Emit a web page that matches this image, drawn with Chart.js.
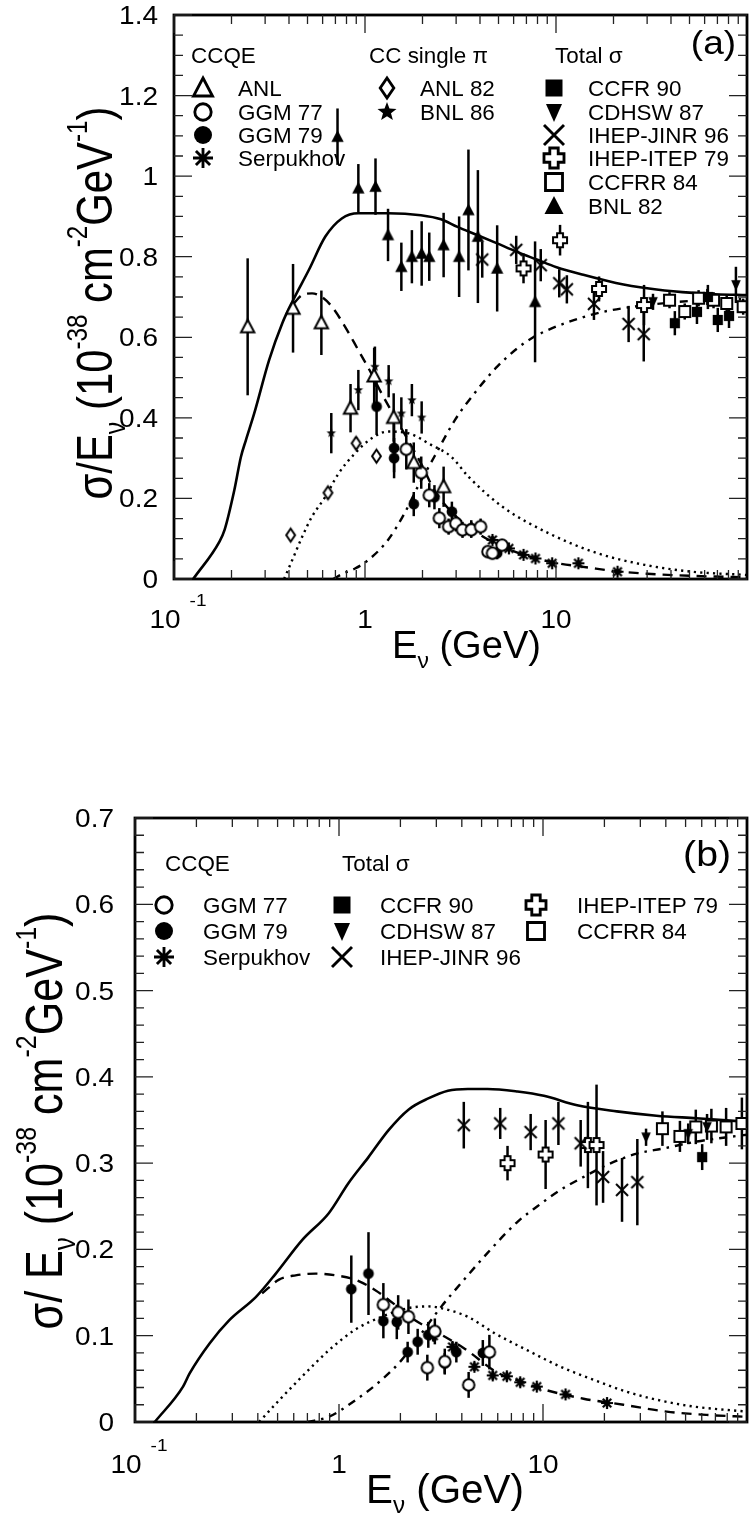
<!DOCTYPE html>
<html><head><meta charset="utf-8">
<script src="https://cdn.jsdelivr.net/npm/chart.js@4"></script>
<style>
html,body{margin:0;padding:0;background:#fff;overflow:hidden;width:754px;height:1521px}
canvas{position:absolute;left:0}
#ca{top:0}
#cb{top:760px}
</style></head><body>
<canvas id="ca" width="754" height="700"></canvas>
<canvas id="cb" width="754" height="761"></canvas>
<script>
// ===================== DATA =====================
// ---- shared tick labels ----
const X_TICK_VALUES = [0.1, 1, 10];
const X_TICK_LABELS = [["10", "-1"], ["1", ""], ["10", ""]];
const A_Y_TICKS = [0, 0.2, 0.4, 0.6, 0.8, 1, 1.2, 1.4];
const B_Y_TICKS = [0, 0.1, 0.2, 0.3, 0.4, 0.5, 0.6, 0.7];

// ---- Panel (a): neutrino, model curves ----
const A_TOT_E  = [0.126,0.173,0.184,0.207,0.224,0.238,0.263,0.315,0.369,0.42,0.508,0.62,0.756,0.923,1.32,1.96,2.5,3.05,3.86,4.92,6.25,7.93,10.07,13.9,20.6,30.7,45.8,68.1,100];
const A_TOT_V  = [0,0.093,0.122,0.221,0.303,0.345,0.411,0.544,0.635,0.692,0.767,0.85,0.895,0.908,0.908,0.903,0.893,0.874,0.854,0.833,0.812,0.793,0.774,0.755,0.735,0.721,0.712,0.707,0.705];
const A_QE_E   = [0.424,0.469,0.528,0.595,0.671,0.787,0.923,1.08,1.22,1.43,1.68,2.0,2.31,3,4,5,7,10,15,20,30,50,100];
const A_QE_V   = [0.684,0.705,0.709,0.70,0.676,0.626,0.568,0.51,0.461,0.403,0.345,0.28,0.22,0.155,0.11,0.085,0.058,0.04,0.028,0.02,0.013,0.008,0.004];
const A_PI_E   = [0.377,0.416,0.469,0.528,0.62,0.727,0.887,1.08,1.32,1.68,2.22,2.82,3.48,5.22,9.2,16.5,29.2,51.8,100];
const A_PI_V   = [0,0.047,0.105,0.155,0.204,0.262,0.312,0.349,0.366,0.362,0.333,0.304,0.254,0.18,0.113,0.064,0.035,0.018,0.01];
const A_DIS_E  = [0.68,0.78,0.887,1.04,1.32,1.61,1.89,2.31,2.96,3.86,4.92,6.25,7.6,10.07,13.9,17.6,22.3,30,50,100];
const A_DIS_V  = [0,0.015,0.026,0.047,0.097,0.163,0.229,0.304,0.395,0.469,0.527,0.572,0.600,0.627,0.650,0.663,0.672,0.68,0.69,0.695];

// ---- Panel (a): data points (E, value, error) ----
const A_ANL_E = [0.243,0.42,0.591,0.84,1.117,1.413,1.80,2.58];
const A_ANL_V = [0.626,0.672,0.636,0.424,0.504,0.401,0.289,0.229];
const A_ANL_R = [0.17,0.11,0.08,0.06,0.07,0.06,0.05,0.05];
const A_GGM77_E = [1.645,1.97,2.17,2.45,2.74,2.99,3.24,3.6,4.03,4.40,4.65,5.22];
const A_GGM77_V = [0.322,0.264,0.208,0.151,0.13,0.138,0.122,0.122,0.13,0.068,0.064,0.084];
const A_GGM77_R = [0.05,0.04,0.03,0.025,0.02,0.02,0.02,0.02,0.02,0.015,0.015,0.015];
const A_GGM79_E = [1.15,1.42,1.42,1.80,2.31,2.85,3.6,4.92];
const A_GGM79_V = [0.428,0.325,0.30,0.186,0.203,0.167,0.126,0.064];
const A_GGM79_R = [0.07,0.06,0.05,0.03,0.03,0.025,0.02,0.015];
const A_SERP_E = [4.65,5.67,6.76,7.81,9.55,13.1,21];
const A_SERP_V = [0.097,0.076,0.06,0.051,0.039,0.039,0.018];
const A_SERP_R = [0.01,0.008,0.008,0.007,0.007,0.007,0.006];
const A_ANL82_E = [0.408,0.64,0.898,1.148];
const A_ANL82_V = [0.109,0.214,0.337,0.305];
const A_ANL82_R = [0.01,0.012,0.015,0.015];
const A_BNL86_E = [0.666,0.923,1.127,1.33,1.55,1.76,1.98];
const A_BNL86_V = [0.362,0.469,0.527,0.491,0.411,0.444,0.401];
const A_BNL86_R = [0.05,0.05,0.05,0.04,0.04,0.04,0.04];
const A_BNL82_E = [0.718,0.923,1.135,1.32,1.55,1.76,1.98,2.17,2.58,3.11,3.48,3.90,4.92,7.77];
const A_BNL82_V = [1.098,0.970,0.974,0.854,0.775,0.80,0.808,0.80,0.829,0.80,0.916,0.85,0.771,0.688];
const A_BNL82_R = [0.07,0.06,0.07,0.065,0.06,0.066,0.08,0.06,0.08,0.1,0.15,0.165,0.107,0.15];
const A_JINR_E = [4.11,6.19,8.32,10.4,11.4,15.8,24.0,28.8];
const A_JINR_V = [0.793,0.817,0.779,0.734,0.719,0.683,0.633,0.608];
const A_JINR_R = [0.045,0.035,0.04,0.035,0.035,0.04,0.045,0.068];
const A_ITEP_E = [6.76,10.5,16.8,28.9];
const A_ITEP_V = [0.771,0.841,0.72,0.68];
const A_ITEP_R = [0.037,0.038,0.031,0.05];
const A_CDHSW_E = [32.2,62,87.5];
const A_CDHSW_V = [0.688,0.70,0.73];
const A_CDHSW_R = [0.02,0.02,0.045];
const A_CCFRR_E = [39.3,47.2,55.8,66.8,78.3,95.5];
const A_CCFRR_V = [0.692,0.664,0.697,0.692,0.684,0.676];
const A_CCFRR_R = [0.02,0.02,0.02,0.02,0.02,0.02];
const A_CCFR_E = [41.9,54.7,62.4,70.3,80.5];
const A_CCFR_V = [0.635,0.663,0.70,0.643,0.653];
const A_CCFR_R = [0.03,0.03,0.03,0.03,0.03];

// ---- Panel (b): antineutrino, model curves ----
const B_TOT_E  = [0.125,0.172,0.185,0.232,0.29,0.392,0.49,0.661,0.891,1.114,1.395,1.746,2.19,2.74,3.42,4.28,5.35,7.5,10.1,14.7,23,36,56.5,100];
const B_TOT_V  = [0,0.041,0.056,0.091,0.118,0.145,0.172,0.211,0.242,0.277,0.307,0.338,0.362,0.375,0.384,0.386,0.386,0.383,0.378,0.367,0.36,0.355,0.352,0.348];
const B_QE_E   = [0.42,0.508,0.613,0.767,0.96,1.2,1.5,1.88,2.36,3.18,4.13,6,8,10,15.8,24.8,40.4,65.6,100];
const B_QE_V   = [0.149,0.165,0.17,0.172,0.17,0.165,0.153,0.136,0.118,0.101,0.085,0.057,0.046,0.038,0.027,0.02,0.012,0.008,0.006];
const B_PI_E   = [0.406,0.508,0.661,0.891,1.2,1.62,2.19,2.74,3.42,4.28,5.78,8.4,12.2,17.7,25.8,37.4,54.4,100];
const B_PI_V   = [0,0.025,0.053,0.083,0.107,0.122,0.132,0.134,0.13,0.122,0.103,0.083,0.064,0.049,0.035,0.025,0.018,0.012];
const B_DIS_E  = [0.7,0.89,1.2,1.62,2.03,2.54,3.18,3.97,5.35,7.5,9.39,12.2,15.8,20.6,28.8,38.9,56.5,100];
const B_DIS_V  = [0,0.006,0.025,0.049,0.072,0.103,0.134,0.161,0.196,0.232,0.25,0.269,0.284,0.298,0.311,0.317,0.325,0.333];

// ---- Panel (b): data points ----
const B_GGM77_E = [1.65,1.95,2.19,2.71,2.95,3.3,4.32,5.46];
const B_GGM77_V = [0.136,0.127,0.122,0.063,0.105,0.07,0.043,0.081];
const B_GGM77_R = [0.025,0.02,0.02,0.015,0.015,0.015,0.015,0.02];
const B_GGM79_E = [1.149,1.395,1.65,1.92,2.17,2.43,2.74,3.3,3.76,5.07];
const B_GGM79_V = [0.154,0.172,0.117,0.116,0.081,0.093,0.101,0.068,0.081,0.08];
const B_GGM79_R = [0.039,0.048,0.02,0.02,0.012,0.015,0.015,0.012,0.012,0.015];
const B_SERP_E = [2.9,3.6,4.61,5.67,6.65,7.73,9.32,12.9,20.6];
const B_SERP_V = [0.1,0.087,0.064,0.054,0.053,0.046,0.041,0.032,0.022];
const B_SERP_R = [0.006,0.006,0.005,0.005,0.005,0.005,0.004,0.004,0.004];
const B_CCFR_E = [60.3];
const B_CCFR_V = [0.307];
const B_CCFR_R = [0.015];
const B_CDHSW_E = [32,51.5,63.7];
const B_CDHSW_V = [0.33,0.334,0.342];
const B_CDHSW_R = [0.01,0.012,0.015];
const B_JINR_E = [4.09,6.17,8.7,11.9,15.3,19.7,24.4,29];
const B_JINR_V = [0.344,0.346,0.336,0.346,0.323,0.284,0.269,0.278];
const B_JINR_R = [0.027,0.018,0.021,0.025,0.027,0.03,0.037,0.05];
const B_ITEP_E = [6.7,10.3,16.6,18.3];
const B_ITEP_V = [0.30,0.31,0.321,0.321];
const B_ITEP_R = [0.02,0.04,0.05,0.07];
const B_CCFRR_E = [38.5,46.9,56.1,66.9,79,94.4];
const B_CCFRR_V = [0.34,0.331,0.342,0.343,0.342,0.346];
const B_CCFRR_R = [0.02,0.018,0.02,0.02,0.022,0.03];

// ===================== DRAWING HELPERS =====================
const FAM = '"Liberation Sans", Arial, Helvetica, sans-serif';

function drawMarker(ctx, type, x, y, s) {
  const h = s / 2;
  ctx.save();
  ctx.lineWidth = Math.max(2.0, s / 7);
  ctx.strokeStyle = '#000'; ctx.fillStyle = '#000';
  ctx.lineJoin = 'miter'; ctx.lineCap = 'butt';
  ctx.beginPath();
  switch (type) {
    case 'triOpen':
    case 'triFill':
      ctx.moveTo(x, y - h); ctx.lineTo(x + h * 0.95, y + h * 0.8); ctx.lineTo(x - h * 0.95, y + h * 0.8); ctx.closePath();
      if (type === 'triOpen') { ctx.fillStyle = '#fff'; ctx.fill(); ctx.stroke(); } else ctx.fill();
      break;
    case 'triDown':
      ctx.moveTo(x, y + h); ctx.lineTo(x + h * 0.8, y - h * 0.8); ctx.lineTo(x - h * 0.8, y - h * 0.8); ctx.closePath(); ctx.fill();
      break;
    case 'circOpen':
      ctx.arc(x, y, h * 0.82, 0, Math.PI * 2); ctx.fillStyle = '#fff'; ctx.fill(); ctx.stroke();
      break;
    case 'circFill':
      ctx.arc(x, y, h * 0.9, 0, Math.PI * 2); ctx.fill();
      break;
    case 'aster':
      for (let k = 0; k < 4; k++) {
        const a = k * Math.PI / 4;
        ctx.moveTo(x - Math.cos(a) * h, y - Math.sin(a) * h);
        ctx.lineTo(x + Math.cos(a) * h, y + Math.sin(a) * h);
      }
      ctx.lineWidth = Math.max(2.2, s / 7);
      ctx.stroke();
      break;
    case 'diamond':
      ctx.moveTo(x, y - h); ctx.lineTo(x + h * 0.68, y); ctx.lineTo(x, y + h); ctx.lineTo(x - h * 0.68, y); ctx.closePath();
      ctx.fillStyle = '#fff'; ctx.fill(); ctx.stroke();
      break;
    case 'star5': {
      for (let k = 0; k < 10; k++) {
        const r = (k % 2 === 0) ? h : h * 0.42;
        const a = -Math.PI / 2 + k * Math.PI / 5;
        const px = x + Math.cos(a) * r, py = y + Math.sin(a) * r;
        if (k === 0) ctx.moveTo(px, py); else ctx.lineTo(px, py);
      }
      ctx.closePath(); ctx.fill();
      break;
    }
    case 'sqFill':
      ctx.rect(x - h * 0.85, y - h * 0.85, h * 1.7, h * 1.7); ctx.fill();
      break;
    case 'sqOpen':
      ctx.rect(x - h * 0.85, y - h * 0.85, h * 1.7, h * 1.7); ctx.fillStyle = '#fff'; ctx.fill(); ctx.stroke();
      break;
    case 'xcross':
      ctx.moveTo(x - h, y - h); ctx.lineTo(x + h, y + h);
      ctx.moveTo(x + h, y - h); ctx.lineTo(x - h, y + h);
      ctx.stroke();
      break;
    case 'plusOpen': {
      const w = h * 0.42;
      ctx.moveTo(x - w, y - h); ctx.lineTo(x + w, y - h); ctx.lineTo(x + w, y - w); ctx.lineTo(x + h, y - w);
      ctx.lineTo(x + h, y + w); ctx.lineTo(x + w, y + w); ctx.lineTo(x + w, y + h); ctx.lineTo(x - w, y + h);
      ctx.lineTo(x - w, y + w); ctx.lineTo(x - h, y + w); ctx.lineTo(x - h, y - w); ctx.lineTo(x - w, y - w); ctx.closePath();
      ctx.fillStyle = '#fff'; ctx.fill(); ctx.stroke();
      break;
    }
  }
  ctx.restore();
}

function markerCanvas(type, s) {
  const c = document.createElement('canvas');
  const n = Math.ceil(s + 6);
  c.width = n; c.height = n;
  drawMarker(c.getContext('2d'), type, n / 2, n / 2, s);
  return c;
}

// text with super/subscripts: seg = [text, kind, scale?, raise?]; kind: 'n' | 'sup' | 'sub' | 'gap'
function segInfo(seg, size) {
  const [t, k, sc, rs] = seg;
  if (k === 'n') return { fs: size, dy: 0 };
  if (k === 'sup') return { fs: size * (sc || 0.62), dy: -size * (rs || 0.42) };
  if (k === 'sub') return { fs: size * (sc || 0.62), dy: size * (rs || 0.22) };
  return { fs: size, dy: 0 };
}
function segsWidth(ctx, segs, size, sx) {
  let w = 0;
  for (const seg of segs) {
    if (seg[1] === 'gap') { w += seg[2]; continue; }
    const { fs } = segInfo(seg, size);
    ctx.font = fs + 'px ' + FAM;
    w += ctx.measureText(seg[0]).width * sx;
  }
  return w;
}
function drawSegs(ctx, segs, x, y, size, align, sx, sy) {
  sy = sy || 1;
  const W = segsWidth(ctx, segs, size, sx);
  let cx = align === 'center' ? x - W / 2 : (align === 'right' ? x - W : x);
  ctx.save();
  ctx.fillStyle = '#000';
  ctx.textBaseline = 'alphabetic';
  ctx.textAlign = 'left';
  for (const seg of segs) {
    if (seg[1] === 'gap') { cx += seg[2]; continue; }
    const { fs, dy } = segInfo(seg, size);
    ctx.font = fs + 'px ' + FAM;
    ctx.save();
    ctx.translate(cx, y + dy * sy);
    ctx.scale(sx, sy);
    ctx.fillText(seg[0], 0, 0);
    ctx.restore();
    cx += ctx.measureText(seg[0]).width * sx;
  }
  ctx.restore();
  return W;
}
function fitSize(ctx, segs, target, base) {
  return base * target / segsWidth(ctx, segs, base, 1);
}

// ===================== PLUGINS =====================
const errorBars = {
  id: 'errorBars',
  beforeDatasetsDraw(chart) {
    const ctx = chart.ctx, a = chart.chartArea;
    const xs = chart.scales.x, ys = chart.scales.y;
    ctx.save();
    ctx.beginPath(); ctx.rect(a.left, a.top, a.right - a.left, a.bottom - a.top); ctx.clip();
    ctx.strokeStyle = '#000'; ctx.lineWidth = 2.5;
    chart.data.datasets.forEach(ds => {
      if (!ds.errs) return;
      ds.data.forEach((p, i) => {
        const e = ds.errs[i];
        const px = xs.getPixelForValue(p.x);
        ctx.beginPath();
        ctx.moveTo(px, ys.getPixelForValue(p.y - e));
        ctx.lineTo(px, ys.getPixelForValue(p.y + e));
        ctx.stroke();
      });
    });
    ctx.restore();
  }
};

const decor = {
  id: 'decor',
  afterDraw(chart, args, o) {
    const ctx = chart.ctx, a = chart.chartArea;
    const xs = chart.scales.x, ys = chart.scales.y;
    const off = o.offY;
    ctx.save();
    // frame
    ctx.strokeStyle = '#000'; ctx.lineWidth = 2.8;
    ctx.strokeRect(a.left, a.top, a.right - a.left, a.bottom - a.top);
    // ticks
    ctx.lineWidth = 1.3;
    ctx.strokeStyle = '#222';
    ctx.beginPath();
    for (const d of [0.1, 1, 10]) {
      for (let k = 1; k <= 9; k++) {
        const v = k * d;
        const px = xs.getPixelForValue(v);
        const L = k === 1 ? 18 : 9;
        ctx.moveTo(px, a.bottom); ctx.lineTo(px, a.bottom - L);
        ctx.moveTo(px, a.top); ctx.lineTo(px, a.top + L);
      }
    }
    const nMinor = Math.round(o.ymax / o.minor);
    for (let i = 0; i <= nMinor; i++) {
      const v = i * o.minor;
      const py = ys.getPixelForValue(v);
      const isMaj = Math.abs(v / o.major - Math.round(v / o.major)) < 1e-6;
      const L = isMaj ? 18 : 9;
      ctx.moveTo(a.left, py); ctx.lineTo(a.left + L, py);
      ctx.moveTo(a.right, py); ctx.lineTo(a.right - L, py);
    }
    ctx.stroke();

    // y tick labels
    o.yTicks.forEach(v => {
      const py = ys.getPixelForValue(v);
      drawSegs(ctx, [[String(v), 'n']], o.yLabRight, py + 9, o.tickSize, 'right', o.tickSx);
    });
    // x tick labels
    X_TICK_VALUES.forEach((v, i) => {
      const [main, sup] = X_TICK_LABELS[i];
      const segs = sup ? [[main, 'n'], ['', 'gap', 9], [sup, 'sup', 0.68, 0.88]] : [[main, 'n']];
      const px = xs.getPixelForValue(v) + (sup ? 4 : 0);
      drawSegs(ctx, segs, px, o.xLabBase - off, o.tickSize, 'center', o.tickSx);
    });
    // x title
    const xt = [['E', 'n'], ['\u03bd', 'sub', 0.6, 0.25], [' (GeV)', 'n']];
    drawSegs(ctx, xt, o.xtLeft, o.xtBase - off, fitSize(ctx, xt, o.xtWidth, 30), 'left', 1);
    // y title (rotated)
    const yt = o.yTitle;
    ctx.save();
    ctx.translate(o.ytBase, o.ytCenter - off);
    ctx.rotate(-Math.PI / 2);
    drawSegs(ctx, yt, 0, 0, fitSize(ctx, yt, o.ytLen, 40), 'center', 1, o.ytSy);
    ctx.restore();
    // panel label
    drawSegs(ctx, [[o.panel, 'n']], o.panelRight, o.panelBase - off, o.panelSize, 'right', 1.12);
    // legend
    o.heads.forEach(hd => drawSegs(ctx, [[hd[0], 'n']], hd[1], o.headBase - off, o.legSize, 'left', 1.02));
    o.entries.forEach(en => {
      const [label, type, sx, tx, cy] = en;
      drawMarker(ctx, type, sx, cy - off, o.legMarker);
      drawSegs(ctx, [[label, 'n']], tx, cy - off + 8, o.legSize, 'left', 1.02);
    });
    ctx.restore();
  }
};

// ===================== CHART BUILDERS =====================
const MS = {triOpen:14, triFill:13, triDown:12, circOpen:14, circFill:12, aster:12, diamond:13, star5:10, sqFill:12, sqOpen:13, xcross:12, plusOpen:14};
function pts(E, V) { return E.map((e, i) => ({x: e, y: V[i]})); }
function pointSet(label, type, E, V, R) {
  return { label, data: pts(E, V), errs: R, showLine: false, pointStyle: markerCanvas(type, MS[type]), pointRadius: 6, pointHoverRadius: 6 };
}
function curveSet(label, E, V, dash, w) {
  return { label, data: pts(E, V), showLine: true, pointRadius: 0, borderColor: '#000', borderWidth: w, borderDash: dash, cubicInterpolationMode: 'monotone' };
}
const Y_TITLE_A = [['\u03c3/E', 'n'], ['\u03bd', 'sub', 0.6, 0.25], [' (10', 'n'], ['-38', 'sup', 0.58, 0.5], [' cm', 'n'], ['-2', 'sup', 0.58, 0.5], ['GeV', 'n'], ['-1', 'sup', 0.58, 0.5], [')', 'n']];
const Y_TITLE_B = [['\u03c3/ E', 'n'], ['\u03bd', 'sub', 0.6, 0.25], [' (10', 'n'], ['-38', 'sup', 0.58, 0.5], [' cm', 'n'], ['-2', 'sup', 0.58, 0.5], ['GeV', 'n'], ['-1', 'sup', 0.58, 0.5], [')', 'n']];

function build(id, datasets, o) {
  return new Chart(document.getElementById(id), {
    type: 'scatter',
    data: { datasets },
    options: {
      responsive: false, animation: false, devicePixelRatio: 1, events: [],
      layout: { padding: { top: o.padTop, right: o.padRight, left: 0, bottom: 0 } },
      plugins: { legend: { display: false }, tooltip: { enabled: false }, decor: o },
      scales: {
        x: { type: 'logarithmic', min: 0.1, max: 100, grid: { display: false }, border: { display: false }, ticks: { display: false }, afterFit(s) { s.height = o.xh; } },
        y: { type: 'linear', min: 0, max: o.ymax, grid: { display: false }, border: { display: false }, ticks: { display: false }, afterFit(s) { s.width = o.yw; } }
      }
    },
    plugins: [errorBars, decor]
  });
}

// ---- Panel (a) ----
build('ca', [
  pointSet('ANL', 'triOpen', A_ANL_E, A_ANL_V, A_ANL_R),
  pointSet('GGM 77', 'circOpen', A_GGM77_E, A_GGM77_V, A_GGM77_R),
  pointSet('GGM 79', 'circFill', A_GGM79_E, A_GGM79_V, A_GGM79_R),
  pointSet('Serpukhov', 'aster', A_SERP_E, A_SERP_V, A_SERP_R),
  pointSet('ANL 82', 'diamond', A_ANL82_E, A_ANL82_V, A_ANL82_R),
  pointSet('BNL 86', 'star5', A_BNL86_E, A_BNL86_V, A_BNL86_R),
  pointSet('CCFR 90', 'sqFill', A_CCFR_E, A_CCFR_V, A_CCFR_R),
  pointSet('CDHSW 87', 'triDown', A_CDHSW_E, A_CDHSW_V, A_CDHSW_R),
  pointSet('IHEP-JINR 96', 'xcross', A_JINR_E, A_JINR_V, A_JINR_R),
  pointSet('IHEP-ITEP 79', 'plusOpen', A_ITEP_E, A_ITEP_V, A_ITEP_R),
  pointSet('CCFRR 84', 'sqOpen', A_CCFRR_E, A_CCFRR_V, A_CCFRR_R),
  pointSet('BNL 82', 'triFill', A_BNL82_E, A_BNL82_V, A_BNL82_R),
  curveSet('Total', A_TOT_E, A_TOT_V, [], 2.6),
  curveSet('CCQE model', A_QE_E, A_QE_V, [10, 7], 2.4),
  curveSet('CC single pi model', A_PI_E, A_PI_V, [2.2, 4.2], 2.4),
  curveSet('DIS model', A_DIS_E, A_DIS_V, [8, 6, 2.5, 6], 2.4)
], {
  offY: 0, padTop: 15, padRight: 2, xh: 121, yw: 174, ymax: 1.4, minor: 0.05, major: 0.2,
  yTicks: A_Y_TICKS, yLabRight: 158, tickSize: 25, tickSx: 1.12, xLabBase: 628,
  xtLeft: 392, xtBase: 658, xtWidth: 149,
  yTitle: Y_TITLE_A, ytBase: 112, ytCenter: 303, ytLen: 393, ytSy: 1.2,
  panel: '(a)', panelRight: 736, panelBase: 54, panelSize: 33,
  legSize: 22, legMarker: 20, headBase: 63,
  heads: [['CCQE', 191], ['CC single \u03c0', 369], ['Total \u03c3', 555]],
  entries: [
    ['ANL', 'triOpen', 203, 238, 88], ['GGM 77', 'circOpen', 203, 238, 112], ['GGM 79', 'circFill', 203, 238, 135], ['Serpukhov', 'aster', 203, 238, 158],
    ['ANL 82', 'diamond', 387, 420, 88], ['BNL 86', 'star5', 387, 420, 112],
    ['CCFR 90', 'sqFill', 554, 588, 88], ['CDHSW 87', 'triDown', 554, 588, 112], ['IHEP-JINR 96', 'xcross', 554, 588, 135],
    ['IHEP-ITEP 79', 'plusOpen', 554, 588, 158], ['CCFRR 84', 'sqOpen', 554, 588, 182], ['BNL 82', 'triFill', 554, 588, 206]
  ]
});

// ---- Panel (b) ----
build('cb', [
  pointSet('GGM 77', 'circOpen', B_GGM77_E, B_GGM77_V, B_GGM77_R),
  pointSet('GGM 79', 'circFill', B_GGM79_E, B_GGM79_V, B_GGM79_R),
  pointSet('Serpukhov', 'aster', B_SERP_E, B_SERP_V, B_SERP_R),
  pointSet('CCFR 90', 'sqFill', B_CCFR_E, B_CCFR_V, B_CCFR_R),
  pointSet('CDHSW 87', 'triDown', B_CDHSW_E, B_CDHSW_V, B_CDHSW_R),
  pointSet('IHEP-JINR 96', 'xcross', B_JINR_E, B_JINR_V, B_JINR_R),
  pointSet('IHEP-ITEP 79', 'plusOpen', B_ITEP_E, B_ITEP_V, B_ITEP_R),
  pointSet('CCFRR 84', 'sqOpen', B_CCFRR_E, B_CCFRR_V, B_CCFRR_R),
  curveSet('Total', B_TOT_E, B_TOT_V, [], 2.6),
  curveSet('CCQE model', B_QE_E, B_QE_V, [10, 7], 2.4),
  curveSet('CC single pi model', B_PI_E, B_PI_V, [2.2, 4.2], 2.4),
  curveSet('DIS model', B_DIS_E, B_DIS_V, [8, 6, 2.5, 6], 2.4)
], {
  offY: 760, padTop: 58, padRight: 3, xh: 99, yw: 135, ymax: 0.7, minor: 0.02, major: 0.1,
  yTicks: B_Y_TICKS, yLabRight: 114, tickSize: 25, tickSx: 1.12, xLabBase: 1473,
  xtLeft: 366, xtBase: 1503, xtWidth: 158,
  yTitle: Y_TITLE_B, ytBase: 62, ytCenter: 1121, ytLen: 417, ytSy: 1.2,
  panel: '(b)', panelRight: 731, panelBase: 866, panelSize: 35,
  legSize: 22, legMarker: 20, headBase: 871,
  heads: [['CCQE', 165], ['Total \u03c3', 342]],
  entries: [
    ['GGM 77', 'circOpen', 164, 203, 905], ['GGM 79', 'circFill', 164, 203, 931], ['Serpukhov', 'aster', 164, 203, 957],
    ['CCFR 90', 'sqFill', 342, 380, 905], ['CDHSW 87', 'triDown', 342, 380, 931], ['IHEP-JINR 96', 'xcross', 342, 380, 957],
    ['IHEP-ITEP 79', 'plusOpen', 536, 577, 905], ['CCFRR 84', 'sqOpen', 536, 577, 931]
  ]
});
</script>
</body></html>
